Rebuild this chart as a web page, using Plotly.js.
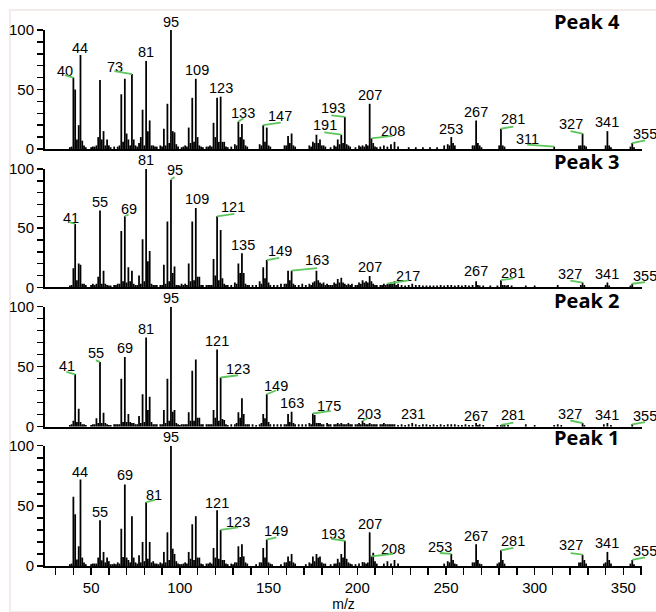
<!DOCTYPE html>
<html><head><meta charset="utf-8">
<script src="https://cdn.plot.ly/plotly-3.0.1.min.js"></script>
<style>
html,body{margin:0;padding:0;background:#fff;overflow:hidden}
#wrap{position:relative;width:656px;height:612px;overflow:hidden}
#frame{position:absolute;left:9px;top:9px;width:645px;height:600px;border-top:2px solid #f3eaea;border-left:2px solid #f3eaea;border-bottom:2px solid #f3eaea;z-index:0}
#chart{position:absolute;left:0;top:0;width:656px;height:612px;z-index:1}
</style>
</head><body><div id="wrap"><div id="frame"></div><div id="chart"></div></div>
<script>
// ---------------- DATA ----------------
const peak4Mz  = [39,40,41,42,43,44,45,51,53,54,55,56,57,59,60,65,67,68,69,70,71,72,73,74,77,78,79,80,81,82,83,84,85,89,91,92,93,95,96,97,103,105,106,107,109,110,111,115,117,119,120,121,123,124,125,131,133,134,135,136,145,147,148,149,150,159,161,163,164,173,175,177,178,179,181,187,189,191,193,194,195,201,203,205,207,208,209,213,215,219,221,223,229,233,237,241,245,249,251,253,254,255,265,267,268,269,281,282,311,325,327,328,341,342,355,356];
const peak4Int = [2,60,50,8,20,79,7,2,3,10,58,8,15,8,3,2,46,6,59,13,8,3,63,8,5,10,33,3,74,15,24,3,3,3,17,3,38,100,15,14,3,18,5,43,59,10,3,2,3,22,10,43,44,6,6,4,23,10,21,8,4,20,6,18,3,3,11,13,3,3,6,12,5,8,3,3,8,12,27,4,3,3,3,4,38,9,5,2,3,4,6,2,1.5,1.5,1.5,1.5,1.5,3,4,10,5,3,3,24,5,3,17,3,2,3,13,3,15,3,5,1.5];
const peak4MinorMz  = [38,46,47,50,52,58,61,63,66,75,76,86,87,90,94,98,99,101,102,104,108,112,113,116,118,122,126,127,129,132,137,138,146,151,160,162,165,174,176,180,182,185,188,190,192,196,199,202,204,206,210,211,217,252,266,270,280,283,326,329,340,343,354];
const peak4MinorInt = [1.5,3,1.5,1.5,2,3,1.5,2,3,3,2,2,2,2,5,4,2,1.5,2,2,6,2,1.5,2,2,6,2,1.5,2,3,3,2,3,2,3,5,2,2,5,3,2,1.5,2,4,5,2,1.5,2,2,3,2,1.5,2,3,3,1.5,3,2,3,2,3,1.5,2];
const peak4Labels = [40,44,73,81,95,109,123,133,147,191,193,207,208,253,267,281,311,327,341,355];

const peak3Mz  = [39,40,41,42,43,44,45,50,51,53,54,55,56,57,58,63,65,67,68,69,70,71,72,73,74,77,78,79,81,82,83,84,85,87,91,92,93,95,96,97,98,101,103,105,106,107,109,110,111,113,117,119,120,121,123,124,125,127,131,133,134,135,136,137,139,145,147,148,149,150,153,157,159,161,162,163,164,169,173,175,177,178,179,181,183,185,187,189,190,191,192,195,197,199,201,203,204,205,207,208,209,213,215,217,219,221,223,225,229,231,233,235,239,243,245,247,249,251,253,255,257,261,263,265,267,268,271,275,281,282,283,285,295,313,327,328,341,355];
const peak3Int = [2,16,53.5,6,20,19,3,2,3,3,9,65,3,14,3,2,3,47.6,5,60,4,17,5,14,3,10,3,40.6,100,22,30.7,3,2,2,19,3,55.5,91,12,17.5,2,3,3,20,5,55.5,67,9,9,2,2,24,10,60,48.5,7.6,3,2,4,20,12,28.7,12,3,2,5,17,7.6,23,4,2,3,3,14,6,14,3,3,3,4,14,6,4,4,3,2,4,7,4,8,4,3,3,2,4,6,4,5,9.6,5,3,2,3,3,4,5,3,2,2,3,2,2,1.5,1.5,1.5,2,1.5,2,2,1.5,2,2,1.5,2,5,2,1.5,1.5,6,2,2,2,1.5,2,4,2,4,3];
const peak3MinorMz  = [38,46,47,52,59,60,61,64,66,75,76,80,86,89,90,94,99,100,102,104,108,112,115,116,118,122,126,129,132,138,141,143,146,151,155,160,165,167,171,174,176,180,182,184,186,188,193,194,196,200,202,206,210,211,214,216,218,220,222,227,237,241,259,269,279,284,287,300,326,340,342,354];
const peak3MinorInt = [1.5,3,2,2,2,1.5,1.5,2,3,2,2,5,2,2,2,5,2,1.5,2,2,6,2,2,2,2,6,2,2,3,2,2,2,3,2,2,3,2,2,2,2,5,3,2,2,2,3,3,2,2,2,3,4,2,2,2,2,3,3,2,1.5,1.5,1.5,1.5,1.5,1.5,1.5,1.5,1.5,2,2,1.5,1.5];
const peak3Labels = [41,55,69,81,95,109,121,135,149,163,207,217,267,281,327,341,355];

const peak2Mz  = [39,40,41,42,43,44,45,51,53,54,55,56,57,58,63,65,67,68,69,71,72,73,77,78,79,81,82,83,84,85,87,89,91,92,93,95,96,97,98,101,103,105,106,107,109,110,111,113,115,117,119,120,121,123,124,125,129,131,133,134,135,136,137,139,141,145,147,148,149,150,153,155,157,159,161,162,163,164,167,169,173,175,176,177,179,181,183,185,187,189,191,193,195,197,199,201,203,204,205,207,209,211,213,215,217,219,221,225,229,231,233,235,239,241,243,245,247,249,251,253,255,257,261,263,267,269,271,281,283,285,295,311,313,315,327,328,339,341,343,355];
const peak2Int = [2,5,43.6,4,15,4,2,2,7,3,54,3,11.7,3,2,2,40,4,58,10.5,4,3,9,3,27,74.4,14,25,4,2,2,2,14,3,40,100,12.5,14,3,2,2,12,5,46.7,56,7.5,7.5,2,2,2,14,7.5,64.4,41,6.4,5.5,2,2,12,7.5,23.6,10.5,2,2,2,2,10.5,7,27,4,2,2,2,2,10.5,4,12.5,3,2,2,3,11,9.7,3,3,2,3,2,2,3,3,2,3,2,2,3,5,3,2,3,2,2,2,3,2,2,2,2,2,3,2,1.5,2,1.5,2,1.5,2,1.5,2,2,2,1.5,2,1.5,3,2,1.5,1.5,2,1.5,2,1.5,2,1.5,3,1.5,2,3,1.5,2];
const peak2MinorMz  = [38,46,47,50,52,59,60,61,64,66,70,74,75,76,80,86,90,94,99,100,102,104,108,112,116,118,122,126,127,132,138,143,146,151,160,165,171,174,178,180,184,188,190,192,194,196,200,202,206,208,210,214,216,218,220,223,227,237,259,265,268,279,282,300];
const peak2MinorInt = [1.5,2,1.5,1.5,2,2,1.5,1.5,2,2,4,3,2,2,4,2,2,5,2,1.5,2,2,5,2,2,2,5,2,1.5,3,2,1.5,3,2,2,2,2,2,3,2,2,2,2,2,2,2,2,2,2,2,2,2,2,2,2,1.5,1.5,2,1.5,1.5,1.5,1.5,1.5,1.5];
const peak2Labels = [41,55,69,81,95,121,123,149,163,175,203,231,267,281,327,341,355];

const peak1Mz  = [39,40,41,42,43,44,45,51,53,54,55,56,57,59,60,65,66,67,68,69,70,71,73,74,77,78,79,81,82,83,84,89,91,92,93,95,96,97,98,103,105,106,107,109,110,111,115,117,119,120,121,123,124,125,131,133,134,135,136,145,147,148,149,150,159,161,163,164,173,175,177,178,179,181,187,189,191,192,193,194,195,201,203,204,207,208,209,210,215,217,221,223,251,253,254,255,265,267,268,269,281,282,325,327,328,329,341,342,355,356];
const peak1Int = [2,57.5,43,5.5,16.4,72,7,2,2,7,38,4.7,11.7,7,4,3,2,31,7.5,67.8,7,5,41.4,7,9,3,20,53,6,20,3,3,11.7,3,28,100,14.4,10,4,3,11.7,6,34.7,41.4,7,7,2,3,15,7,46.4,30,5,5,3,16.4,7.5,18,8,3,15,7,22,3,3,8,10,3,3,8,10,7,8,2,2,6,10,7,21,6,3,2,3.3,3,28,8,11,4,2,4,5,2,4,10,5,2,3,18,5,2,13,5,3,9.4,5,2,11.7,5,5,1.5];
const peak1MinorMz  = [38,46,47,50,52,58,61,62,63,64,72,75,76,80,85,86,87,88,90,94,99,100,101,102,104,108,112,113,116,118,122,126,127,129,130,132,137,138,143,146,151,152,157,160,162,165,171,174,176,180,182,185,188,190,196,197,199,205,206,211,219,249,252,256,266,270,279,280,283,326,339,340,343,354];
const peak1MinorInt = [1.5,3,1.5,1.5,2,3,1.5,1.5,2,1.5,3,3,2,4,4,2,2,1.5,2,5,2,1.5,1.5,2,2,5,2,1.5,2,2,6,2,1.5,2,1.5,3,3,2,1.5,3,2,1.5,1.5,3,4,2,1.5,2,4,3,2,1.5,2,3,2,1.5,1.5,2,3,2,2,2,3,1.5,3,1.5,2,3,2,3,2,3,2,2];
const peak1Labels = [44,55,69,81,95,121,123,149,193,207,208,253,267,281,327,341,355];

const panelTitles = ['Peak 4','Peak 3','Peak 2','Peak 1'];
const xTitle = 'm/z';

// ---------------- STYLE (label offsets in px: text dx, text dy, leader dx, leader dy) ----------------
const peak4LabelStyle = {40:[-8,7,-9,2.5],44:[0,7],73:[-16.5,7,-18,3],81:[0,8.7],95:[0,8.5],109:[1,8.3],123:[0.7,8.2],
  133:[4.7,9,5.7,3.7],147:[17,9,18,2.7],191:[-16,10,-17.5,2.5],193:[-12,8.5,-14,1.5],207:[0,8.3],208:[21.5,7.5,21.5,2.5],
  253:[0,8],267:[0,8.5],281:[12,9.3,13,2.3],311:[-27,7.5,-27.5,2],327:[-12,9.3,-12.5,2.6],341:[0,9],355:[12.3,9,13.3,2.7]};
const peak3LabelStyle = {41:[-4.3,6,-7,2.3],55:[0,8.3],69:[4,7.7,4.3,2],81:[0,8.7],95:[4,9.3,4,3],109:[1,9.3],
  121:[16.4,9.2,17.7,2.4],135:[0.7,8.8],149:[13,9.5,13,2.3],163:[25,10.3,26,2.7],207:[0,8.5],217:[21,8,21.7,3.4],
  267:[0,10],281:[12,7.3,13,2],327:[-12.5,9,-12.7,2],341:[0,8.3],355:[12.3,8.2,13.3,1.7]};
const peak2LabelStyle = {41:[-8.3,8.5,-9.3,2.6],55:[-4.3,9.2,-4.6,1.7],69:[0.3,9],81:[0,8.3],95:[0,8.7],121:[0,8.3],
  123:[17.7,8.5,18,2.3],149:[8.8,8.2,9.6,4],163:[0.7,8.2],175:[16.5,7.3,18.3,2.6],203:[6,7,6,3],231:[1,9.5],
  267:[0,7.3],281:[12,9.5,13,2.3],327:[-12.5,9,-12.7,2.7],341:[0,8.3],355:[12.3,8.3,13.3,2.3]};
const peak1LabelStyle = {44:[0,7.3],55:[0,8],69:[0.3,9.3],81:[8,7.5,9.3,2.4],95:[0,8.5],121:[0,7.5],
  123:[17.7,8.3,18,2.7],149:[8.8,8.3,10,2.4],193:[-12,6.3,-14,2],207:[0,8.4],208:[21.8,7.2,22.3,2.7],
  253:[-11,7,-12,1],267:[0,8.5],281:[12,9.2,13,2.7],327:[-12,9.8,-12.4,1.6],341:[0,9.2],355:[12.3,9.3,13.3,2.7]};

const FONT = 'Liberation Sans, Arial, Helvetica, sans-serif';
const labelFont = {family: FONT, size: 14.5, color: '#000'};
const leaderColor = '#5cc65c';
const domains = [[0.778,1],[0.520,0.7407],[0.2599,0.4838],[0,0.2244]];
const titleShifts = [9, 7.5, 6.5, 8.5];

const panels = [
  {mz: peak4Mz, inten: peak4Int, minorMz: peak4MinorMz, minorInt: peak4MinorInt, labels: peak4Labels, style: peak4LabelStyle},
  {mz: peak3Mz, inten: peak3Int, minorMz: peak3MinorMz, minorInt: peak3MinorInt, labels: peak3Labels, style: peak3LabelStyle},
  {mz: peak2Mz, inten: peak2Int, minorMz: peak2MinorMz, minorInt: peak2MinorInt, labels: peak2Labels, style: peak2LabelStyle},
  {mz: peak1Mz, inten: peak1Int, minorMz: peak1MinorMz, minorInt: peak1MinorInt, labels: peak1Labels, style: peak1LabelStyle}
];

const data = [];
const annotations = [];
const layout = {
  width: 656, height: 612,
  margin: {l: 45, r: 14, t: 30, b: 46, pad: 0},
  paper_bgcolor: 'rgba(0,0,0,0)', plot_bgcolor: 'rgba(0,0,0,0)',
  showlegend: false,
  font: {family: FONT, color: '#000'}
};

const mzRange = [24, 360.5];

panels.forEach((p, i) => {
  const k = i === 0 ? '' : String(i + 1);
  data.push({type: 'bar', x: p.mz.concat(p.minorMz), y: p.inten.concat(p.minorInt), xaxis: 'x' + k, yaxis: 'y' + k, width: 1.0,
             marker: {color: '#000', line: {width: 0}}, hoverinfo: 'skip', showlegend: false});
  const isBottom = i === panels.length - 1;
  const xa = {range: mzRange, anchor: 'y' + k, showline: true, linecolor: '#000', linewidth: 2,
              showgrid: false, zeroline: false, fixedrange: true, ticks: '', showticklabels: false};
  if (isBottom) {
    Object.assign(xa, {ticks: 'outside', ticklen: 7, tickwidth: 1.5, tickcolor: '#000', showticklabels: true,
      tick0: 0, dtick: 50, tickfont: {family: FONT, size: 15, color: '#000'},
      minor: {tick0: 0, dtick: 10, ticks: 'outside', ticklen: 7, tickwidth: 1.5, tickcolor: '#000', showgrid: false},
      title: {text: xTitle, font: {family: FONT, size: 14, color: '#000'}, standoff: 4}});
  }
  layout['xaxis' + k] = xa;
  layout['yaxis' + k] = {domain: domains[i], anchor: 'x' + k, range: [0, 100], showline: true, linecolor: '#000',
    linewidth: 2, showgrid: false, zeroline: false, fixedrange: true, ticks: 'outside', ticklen: 6, tickwidth: 1.5,
    tickcolor: '#000', tick0: 0, dtick: 50, tickfont: {family: FONT, size: 15, color: '#000'},
    minor: {tick0: 0, dtick: 10, ticks: 'outside', ticklen: 6, tickwidth: 1.5, tickcolor: '#000', showgrid: false}};

  p.labels.forEach(m => {
    const y = p.inten[p.mz.indexOf(m)];
    const s = p.style[m];
    annotations.push({xref: 'x' + k, yref: 'y' + k, x: m, y: y, text: String(m), showarrow: false,
      xanchor: 'center', yanchor: 'middle', xshift: s[0], yshift: s[1], font: labelFont, borderpad: 0});
    if (s.length > 2) {
      annotations.push({xref: 'x' + k, yref: 'y' + k, x: m, y: y, text: '', showarrow: true, arrowhead: 0,
        arrowwidth: 1.8, arrowcolor: leaderColor, ax: s[2], ay: -s[3], axref: 'pixel', ayref: 'pixel',
        standoff: 0, startstandoff: 0, font: {size: 1}, borderpad: 0});
    }
  });
  annotations.push({xref: 'paper', yref: 'y' + k + ' domain', x: 0.967, y: 1, xanchor: 'right', yanchor: 'middle',
    yshift: titleShifts[i], text: '<b>' + panelTitles[i] + '</b>', showarrow: false,
    font: {family: 'Open Sans, Liberation Sans, sans-serif', size: 20, color: '#000'}});
});
layout.annotations = annotations;

Plotly.newPlot('chart', data, layout, {staticPlot: true, displayModeBar: false});
</script>
</body></html>
